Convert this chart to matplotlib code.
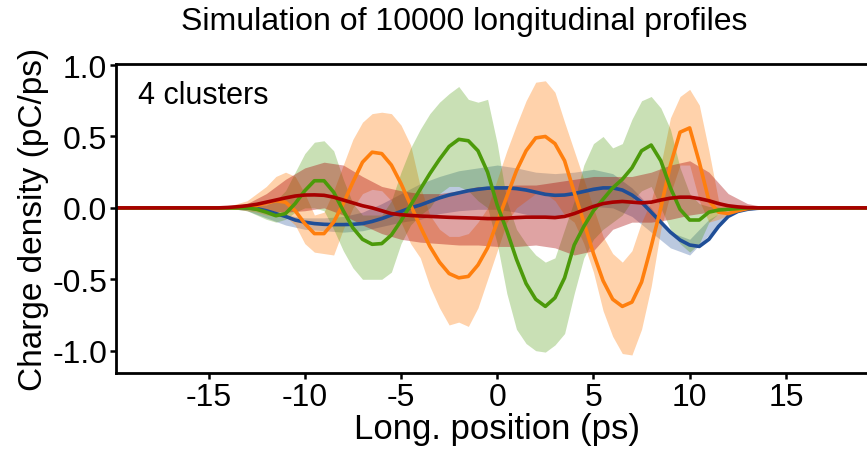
import numpy as np
import matplotlib
matplotlib.use("Agg")
import matplotlib.pyplot as plt

plt.rcParams['font.family'] = ['Liberation Sans', 'DejaVu Sans']
plt.rcParams['axes.unicode_minus'] = False

# fine grid (0.5 ps) for the mean profiles and the orange / green bands
x_fine = np.arange(-15, 14.01, 0.5)
# coarse grid (1 ps) for the blue / red bands
x_coarse = np.arange(-15, 14.01, 1.0)

blue_mean = [0, 0, 0, 0, 0, -0.005, -0.02, -0.04, -0.06, -0.085, -0.10, -0.11, -0.115, -0.117,
             -0.117, -0.115, -0.11, -0.095, -0.075, -0.05, -0.025, 0.0, 0.02, 0.045, 0.07, 0.09,
             0.105, 0.12, 0.13, 0.138, 0.14, 0.14, 0.135, 0.125, 0.11, 0.095, 0.088, 0.09, 0.10,
             0.115, 0.13, 0.14, 0.14, 0.125, 0.09, 0.04, -0.03, -0.10, -0.17, -0.225, -0.26, -0.27,
             -0.22, -0.13, -0.06, -0.025, -0.01, -0.003, 0]
orange_mean = [0, 0, 0, 0, 0.005, 0.015, 0.035, 0.05, 0.04, -0.02, -0.11, -0.18, -0.18, -0.10,
               0.03, 0.18, 0.32, 0.39, 0.38, 0.30, 0.17, 0.02, -0.13, -0.27, -0.38, -0.46, -0.49,
               -0.48, -0.40, -0.28, -0.10, 0.08, 0.26, 0.40, 0.49, 0.50, 0.45, 0.33, 0.11, -0.10,
               -0.32, -0.51, -0.64, -0.69, -0.66, -0.52, -0.27, 0.0, 0.30, 0.53, 0.56, 0.32, 0.05,
               -0.03, -0.04, -0.02, -0.005, 0, 0]
green_mean = [0, 0, 0, 0, 0, -0.01, -0.03, -0.055, -0.04, 0.03, 0.12, 0.19, 0.19, 0.11, -0.02,
              -0.14, -0.22, -0.255, -0.25, -0.19, -0.09, 0.02, 0.13, 0.24, 0.34, 0.43, 0.48, 0.47,
              0.40, 0.25, 0.02, -0.16, -0.36, -0.53, -0.64, -0.69, -0.63, -0.49, -0.26, -0.13,
              -0.02, 0.06, 0.14, 0.20, 0.28, 0.40, 0.44, 0.33, 0.14, -0.01, -0.085, -0.085, -0.03,
              -0.015, -0.01, -0.005, 0, 0, 0]
red_mean = [0, 0, 0.003, 0.008, 0.015, 0.025, 0.04, 0.055, 0.07, 0.083, 0.09, 0.091, 0.088,
            0.075, 0.055, 0.035, 0.015, 0.0, -0.02, -0.04, -0.048, -0.053, -0.057, -0.06, -0.063,
            -0.066, -0.068, -0.07, -0.072, -0.075, -0.075, -0.072, -0.068, -0.065, -0.065, -0.065,
            -0.068, -0.06, -0.04, -0.015, 0.01, 0.03, 0.04, 0.045, 0.04, 0.035, 0.04, 0.055,
            0.068, 0.075, 0.075, 0.065, 0.05, 0.03, 0.015, 0.007, 0.002, 0, 0]

orange_hi = [0, 0, 0.01, 0.03, 0.05, 0.1, 0.15, 0.22, 0.25, 0.22, 0.1, -0.05, -0.03, 0.12, 0.3,
             0.48, 0.6, 0.66, 0.67, 0.66, 0.58, 0.44, 0.15, -0.05, -0.15, -0.2, -0.2, -0.18, -0.1,
             0.0, 0.2, 0.4, 0.58, 0.75, 0.88, 0.89, 0.81, 0.6, 0.4, 0.2, 0.0, -0.2, -0.32, -0.38,
             -0.3, -0.1, 0.05, 0.3, 0.63, 0.78, 0.83, 0.72, 0.4, 0.05, 0.0, 0.0, 0.0, 0, 0]
orange_lo = [0, 0, -0.005, -0.01, -0.02, -0.03, -0.05, -0.06, -0.06, -0.12, -0.25, -0.31, -0.32,
             -0.33, -0.15, 0.0, 0.1, 0.13, 0.12, 0.05, -0.1, -0.25, -0.35, -0.55, -0.7, -0.82,
             -0.8, -0.83, -0.7, -0.5, -0.3, -0.1, 0.0, 0.05, 0.1, 0.1, 0.05, -0.05, -0.1, -0.25,
             -0.45, -0.72, -0.9, -1.02, -1.03, -0.85, -0.55, -0.15, 0.1, 0.3, 0.3, 0.05, -0.1,
             -0.08, -0.05, -0.02, -0.01, 0, 0]
green_hi = [0, 0, 0, 0.005, 0.01, 0.015, 0.02, 0.05, 0.12, 0.25, 0.38, 0.46, 0.47, 0.4, 0.2, 0.03,
            -0.05, -0.05, -0.05, 0.05, 0.25, 0.42, 0.55, 0.66, 0.74, 0.8, 0.85, 0.76, 0.74, 0.76,
            0.45, 0.05, -0.15, -0.25, -0.33, -0.38, -0.35, -0.15, 0.05, 0.3, 0.45, 0.5, 0.42,
            0.45, 0.62, 0.75, 0.78, 0.7, 0.55, 0.28, 0.1, 0.03, 0.01, 0.005, 0, 0, 0, 0, 0]
green_lo = [0, 0, 0, -0.01, -0.02, -0.05, -0.08, -0.1, -0.08, -0.03, 0.0, 0.0, -0.02, -0.15,
            -0.3, -0.42, -0.5, -0.5, -0.5, -0.45, -0.25, -0.12, -0.05, 0.0, 0.1, 0.15, 0.15, 0.12,
            0.05, 0.0, -0.25, -0.6, -0.85, -0.95, -1.0, -1.01, -0.96, -0.88, -0.6, -0.35, -0.22,
            -0.15, -0.1, -0.05, 0.05, 0.12, 0.15, 0.0, -0.15, -0.25, -0.31, -0.25, -0.1, -0.04,
            -0.01, 0, 0, 0, 0]

blue_hi = [0, 0.002, 0.01, -0.01, -0.05, -0.07, -0.07, -0.06, -0.03, 0.03, 0.1, 0.17, 0.22, 0.26,
           0.28, 0.3, 0.28, 0.25, 0.24, 0.25, 0.27, 0.24, 0.14, 0.0, -0.17, -0.22, -0.08, -0.005,
           0.002, 0]
blue_lo = [0, -0.002, -0.02, -0.07, -0.12, -0.15, -0.16, -0.17, -0.16, -0.13, -0.1, -0.08, -0.04,
           -0.02, -0.01, -0.01, -0.03, -0.06, -0.06, -0.02, 0.01, 0.0, -0.06, -0.17, -0.28, -0.33,
           -0.19, -0.05, -0.008, 0]
red_hi = [0, 0.005, 0.03, 0.1, 0.2, 0.28, 0.32, 0.3, 0.22, 0.15, 0.12, 0.1, 0.1, 0.12, 0.15, 0.15,
          0.16, 0.16, 0.18, 0.2, 0.22, 0.22, 0.22, 0.25, 0.3, 0.33, 0.25, 0.1, 0.03, 0.005]
red_lo = [0, -0.005, -0.01, -0.02, -0.03, -0.02, 0.0, -0.05, -0.12, -0.18, -0.22, -0.24, -0.25,
          -0.26, -0.26, -0.27, -0.27, -0.26, -0.28, -0.33, -0.3, -0.15, -0.1, -0.1, -0.08, -0.05,
          -0.03, -0.01, 0.0, 0]

c_blue = '#1f4e97'
c_orange = '#ff7f0e'
c_green = '#4c9a0a'
c_red = '#a80000'


def pad(x, y):
    # flat zero outside the recorded range
    return np.concatenate([[-20], x, [20]]), np.concatenate([[0], y, [0]])


fig = plt.figure(figsize=(8.67, 4.52), dpi=100)
ax = fig.add_axes([0.134, 0.173, 0.879, 0.683])

ax.fill_between(*pad(x_coarse, blue_lo), pad(x_coarse, blue_hi)[1], color=c_blue, alpha=0.3, lw=0)
ax.fill_between(*pad(x_fine, orange_lo), pad(x_fine, orange_hi)[1], color=c_orange, alpha=0.35, lw=0)
ax.fill_between(*pad(x_fine, green_lo), pad(x_fine, green_hi)[1], color=c_green, alpha=0.3, lw=0)
ax.fill_between(*pad(x_coarse, red_lo), pad(x_coarse, red_hi)[1], color=c_red, alpha=0.36, lw=0)

for vals, col in [(blue_mean, c_blue), (orange_mean, c_orange), (green_mean, c_green),
                  (red_mean, c_red)]:
    ax.plot(*pad(x_fine, vals), color=col, lw=2.6, solid_joinstyle='round')

ax.set_xlim(-19.8, 19.8)
ax.set_ylim(-1.155, 1.007)
ax.set_xticks([-15, -10, -5, 0, 5, 10, 15])
ax.set_yticks([-1.0, -0.5, 0.0, 0.5, 1.0])
ax.set_yticklabels(['-1.0', '-0.5', '0.0', '0.5', '1.0'])
ax.tick_params(labelsize=23, width=1.8, length=4.5, pad=2)
for s in ax.spines.values():
    s.set_linewidth(2.0)

ax.set_xlabel('Long. position (ps)', fontsize=25, labelpad=0)
ax.set_ylabel('Charge density (pC/ps)', fontsize=24, labelpad=2)
ax.text(0.028, 0.95, '4 clusters', transform=ax.transAxes, fontsize=22, va='top')
fig.text(0.535, 0.952, 'Simulation of 10000 longitudinal profiles', fontsize=23,
         ha='center', va='center')

fig.savefig('out.png', dpi=100)
